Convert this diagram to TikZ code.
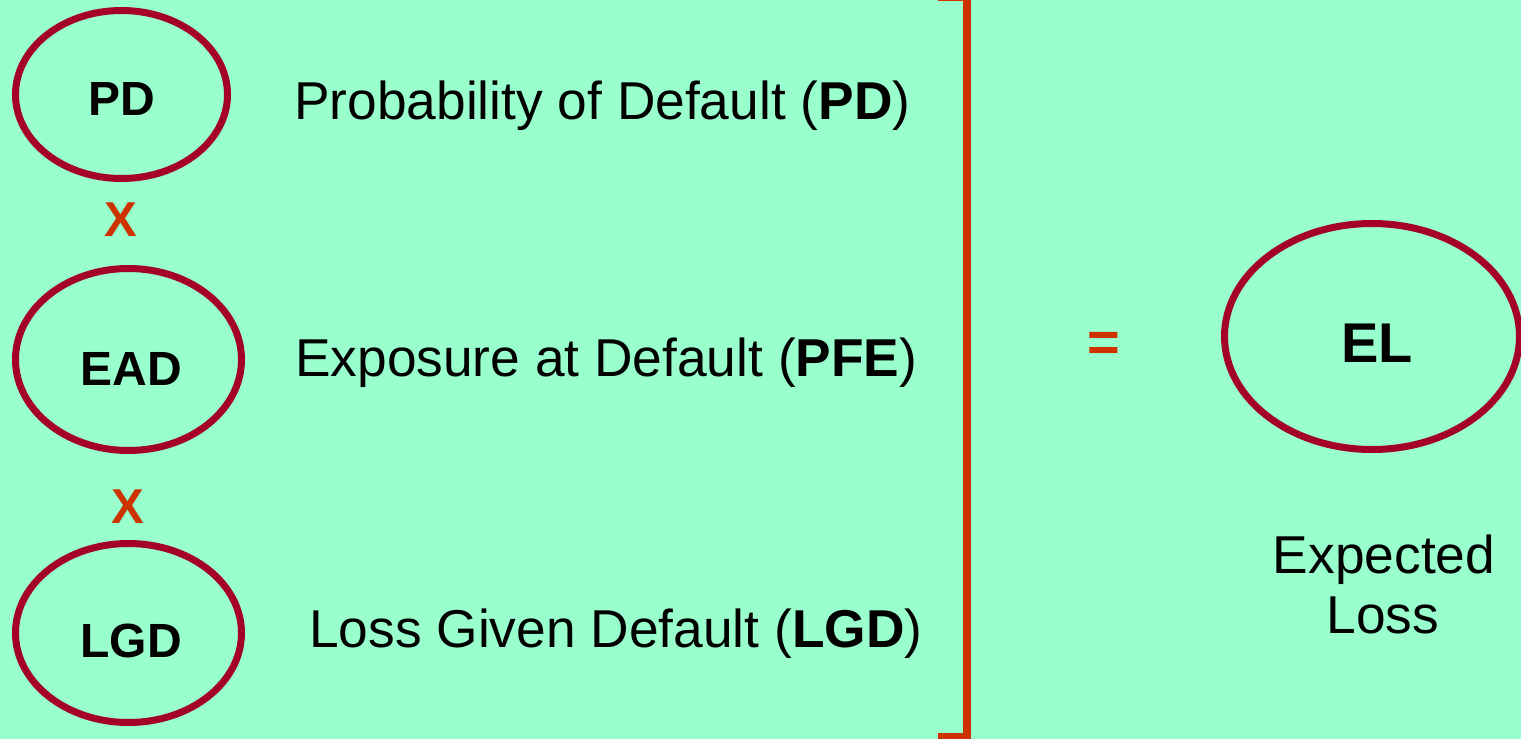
\documentclass[tikz,border=0pt]{standalone}
\usepackage{fontspec}
\setmainfont{Liberation Sans}
\usetikzlibrary{shapes.geometric}
\definecolor{bg}{HTML}{99FFCC}
\definecolor{ring}{HTML}{A50026}
\definecolor{op}{HTML}{CC3300}
\tikzset{
  ring/.style={draw=ring, line width=7pt, ellipse, inner sep=0pt},
  lbl/.style={inner sep=0pt, anchor=base, font=\fontsize{48}{56}\bfseries\selectfont},
  desc/.style={inner sep=0pt, anchor=base west, font=\fontsize{53.3}{60}\selectfont},
  opsign/.style={inner sep=0pt, anchor=center, text=op, font=\fontsize{49}{56}\bfseries\selectfont}
}
\begin{document}
\begin{tikzpicture}[x=1pt,y=-1pt]
\fill[bg] (0,0) rectangle (1521,739);
\useasboundingbox (0,0) rectangle (1521,739);
% ellipses
\node[ring, minimum width=212pt, minimum height=168pt] (pdE) at (121.5,94.5) {};
\node[ring, minimum width=226pt, minimum height=182pt] (eadE) at (128.5,359.5) {};
\node[ring, minimum width=226pt, minimum height=179pt] (lgdE) at (128.5,633) {};
\node[ring, minimum width=295pt, minimum height=226pt] (elE) at (1372,336.5) {};
% ellipse labels
\node[lbl] (pd) at (121.5,115) {PD};
\node[lbl] (ead) at (131,385) {EAD};
\node[lbl] (lgd) at (131,657) {LGD};
\node[lbl, font=\fontsize{56}{64}\bfseries\selectfont] (el) at (1377,362) {EL};
% operators
\node[opsign] (x1) at (121,220) {X};
\node[opsign] (x2) at (128,507) {X};
\node[opsign, font=\fontsize{56}{64}\bfseries\selectfont] (eq) at (1104,347) {=};
% descriptions
\node[desc] (pdt) at (294,119) {Probability of Default (\textbf{PD})};
\node[desc] (eadt) at (295,376) {Exposure at Default (\textbf{PFE})};
\node[desc] (lgdt) at (309,647) {Loss Given Default (\textbf{LGD})};
\node[desc, anchor=base] (elt1) at (1384,573) {Expected};
\node[desc, anchor=base] (elt2) at (1383,633) {Loss};
% bracket
\draw[op, line width=8pt] (938,-3) -- (967,-3) -- (967,737) -- (938,737);
\end{tikzpicture}
\end{document}
